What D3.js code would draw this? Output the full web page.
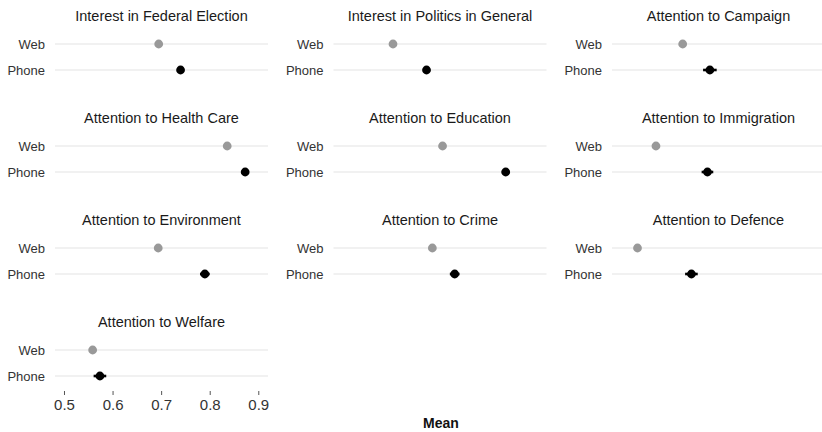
<!DOCTYPE html>
<html>
<head>
<meta charset="utf-8">
<script src="https://cdn.jsdelivr.net/npm/d3@7"></script>
<style>
  html, body { margin: 0; padding: 0; background: #fff; }
  svg { display: block; font-family: "Liberation Sans", Arial, Helvetica, sans-serif; }
</style>
</head>
<body>
<svg id="chart" width="822" height="432"></svg>
<script>
// Survey items, one facet each
const items = [
  "Interest in Federal Election", "Interest in Politics in General", "Attention to Campaign",
  "Attention to Health Care", "Attention to Education", "Attention to Immigration",
  "Attention to Environment", "Attention to Crime", "Attention to Defence",
  "Attention to Welfare"
];
const modes = ["Web", "Phone"];

// Mean per item and mode, with 95% interval bounds
const webMean   = [0.695, 0.604, 0.627, 0.836, 0.706, 0.572, 0.694, 0.685, 0.534, 0.559];
const webLow    = [0.690, 0.599, 0.621, 0.831, 0.701, 0.566, 0.689, 0.680, 0.528, 0.553];
const webHigh   = [0.700, 0.609, 0.633, 0.841, 0.711, 0.578, 0.699, 0.690, 0.540, 0.565];
const phoneMean = [0.740, 0.673, 0.683, 0.873, 0.836, 0.678, 0.790, 0.731, 0.645, 0.574];
const phoneLow  = [0.733, 0.666, 0.669, 0.866, 0.828, 0.666, 0.780, 0.721, 0.632, 0.561];
const phoneHigh = [0.747, 0.680, 0.697, 0.880, 0.844, 0.690, 0.800, 0.741, 0.658, 0.587];

const xTicks = [0.5, 0.6, 0.7, 0.8, 0.9];
const xTitle = "Mean";

const svg = d3.select("#chart");

// Facet grid layout
const nCols = 3;
const panelW = 213, panelH = 52;
const colX = [55, 333.5, 612];
const rowTop = r => 31 + r * 102;

const x = d3.scaleLinear().domain([0.4815, 0.92]).range([0, panelW]);
const y = d3.scalePoint().domain(modes).range([0, panelH]).padding(0.5);

const colors = { Web: "#999999", Phone: "#000000" };

const rows = items.map((name, i) => ({
  name, i,
  points: [
    { mode: "Web",   mean: webMean[i],   lo: webLow[i],   hi: webHigh[i] },
    { mode: "Phone", mean: phoneMean[i], lo: phoneLow[i], hi: phoneHigh[i] }
  ]
}));

const panels = svg.selectAll("g.panel")
  .data(rows)
  .join("g")
  .attr("class", "panel")
  .attr("transform", d => `translate(${colX[d.i % nCols]},${rowTop(Math.floor(d.i / nCols))})`);

// Facet titles
panels.append("text")
  .attr("x", panelW / 2)
  .attr("y", -10)
  .attr("text-anchor", "middle")
  .attr("font-size", 14.5)
  .attr("fill", "#1a1a1a")
  .text(d => d.name);

// Horizontal gridlines at each mode
panels.selectAll("line.grid")
  .data(modes)
  .join("line")
  .attr("class", "grid")
  .attr("x1", 0).attr("x2", panelW)
  .attr("y1", m => y(m)).attr("y2", m => y(m))
  .attr("stroke", "#e3e3e3")
  .attr("stroke-width", 1.1);

// Mode labels on the left
panels.selectAll("text.mode")
  .data(modes)
  .join("text")
  .attr("class", "mode")
  .attr("x", -10)
  .attr("y", m => y(m))
  .attr("dy", "0.35em")
  .attr("text-anchor", "end")
  .attr("font-size", 13)
  .attr("fill", "#333")
  .text(m => m);

// Interval bars
panels.selectAll("line.ci")
  .data(d => d.points)
  .join("line")
  .attr("class", "ci")
  .attr("x1", p => x(p.lo)).attr("x2", p => x(p.hi))
  .attr("y1", p => y(p.mode)).attr("y2", p => y(p.mode))
  .attr("stroke", p => colors[p.mode])
  .attr("stroke-width", 2.6);

// Means
panels.selectAll("circle.pt")
  .data(d => d.points)
  .join("circle")
  .attr("class", "pt")
  .attr("cx", p => x(p.mean))
  .attr("cy", p => y(p.mode))
  .attr("r", 4.4)
  .attr("fill", p => colors[p.mode]);

// x axis only under the bottom-left facet
const lastRow = Math.floor((items.length - 1) / nCols);
const axisG = svg.append("g")
  .attr("transform", `translate(${colX[0]},${rowTop(lastRow) + panelH + 2})`)
  .call(d3.axisBottom(x).tickValues(xTicks).tickFormat(d3.format(".1f")).tickSize(4).tickPadding(4));
axisG.select(".domain").remove();
axisG.selectAll(".tick line").attr("stroke", "#555").attr("stroke-width", 1);
axisG.selectAll(".tick text")
  .attr("font-family", "'Liberation Sans', Arial, sans-serif")
  .attr("font-size", 15)
  .attr("fill", "#333");

// Axis title
svg.append("text")
  .attr("x", 441)
  .attr("y", 428)
  .attr("text-anchor", "middle")
  .attr("font-size", 14)
  .attr("font-weight", "bold")
  .attr("fill", "#111")
  .text(xTitle);
</script>
</body>
</html>
